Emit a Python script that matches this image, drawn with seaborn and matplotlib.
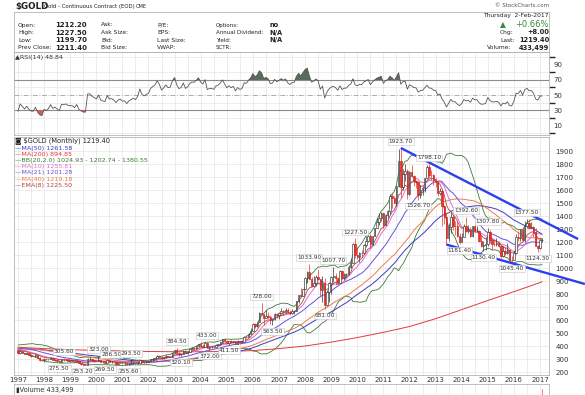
import numpy as np
import pandas as pd
import matplotlib
matplotlib.use("Agg")
import matplotlib.pyplot as plt
from matplotlib.patches import Rectangle
import seaborn as sns

# --- data ---
# monthly closes 1993-1996, only used to warm up the averages and the RSI
close_pre = [330, 327, 337, 355, 378, 378, 401, 372, 355, 370, 371, 391,
             378, 381, 390, 376, 387, 388, 385, 386, 395, 389, 383, 383,
             375, 376, 391, 389, 385, 387, 383, 382, 384, 383, 387, 387,
             405, 400, 396, 392, 391, 382, 385, 387, 379, 379, 371, 369]

first_month = "1997-01"
close = [345, 358, 349, 340, 345, 334, 326, 325, 332, 311, 296, 290,   # 1997
         303, 297, 301, 310, 293, 296, 288, 279, 294, 292, 294, 288,   # 1998
         287, 287, 280, 286, 268, 261, 255, 255, 299, 300, 292, 288,   # 1999
         283, 294, 278, 274, 272, 289, 277, 278, 274, 264, 270, 273,   # 2000
         266, 267, 258, 264, 267, 270, 266, 273, 293, 279, 275, 279,   # 2001
         282, 297, 303, 309, 326, 318, 304, 312, 324, 317, 319, 348,   # 2002
         368, 347, 335, 340, 365, 346, 355, 375, 385, 384, 398, 416,   # 2003
         402, 396, 427, 387, 394, 395, 391, 410, 416, 429, 453, 438,   # 2004
         423, 436, 428, 436, 418, 437, 429, 434, 473, 470, 496, 518,   # 2005
         570, 556, 583, 655, 645, 616, 633, 626, 600, 605, 648, 635,   # 2006
         652, 672, 664, 679, 660, 651, 669, 673, 743, 795, 783, 838,   # 2007
         923, 972, 916, 865, 888, 930, 913, 832, 884, 718, 816, 884,   # 2008
         928, 942, 924, 887, 979, 927, 953, 955, 1008, 1040, 1181, 1097,   # 2009
         1082, 1118, 1115, 1180, 1207, 1244, 1181, 1248, 1307, 1357, 1386, 1421,   # 2010
         1333, 1411, 1439, 1556, 1536, 1500, 1628, 1825, 1620, 1725, 1746, 1566,   # 2011
         1738, 1711, 1669, 1664, 1560, 1604, 1614, 1692, 1776, 1719, 1714, 1675,   # 2012
         1664, 1578, 1596, 1476, 1393, 1234, 1312, 1396, 1327, 1323, 1250, 1202,   # 2013
         1240, 1321, 1284, 1296, 1246, 1322, 1282, 1287, 1210, 1171, 1175, 1184,   # 2014
         1278, 1213, 1183, 1182, 1190, 1172, 1095, 1132, 1115, 1142, 1064, 1061,   # 2015
         1118, 1238, 1234, 1290, 1217, 1322, 1350, 1311, 1317, 1276, 1173, 1152,   # 2016
         1212.2, 1219.4]                                                          # 2017

high = [370, 366, 360, 350, 351, 346, 335, 331, 336, 334, 313, 298,
        307, 305, 303, 315, 312, 298, 297, 292, 301, 305.6, 300, 297,
        294, 292, 291, 291, 290, 270, 263, 260, 304, 318, 303, 295,
        292, 323, 296, 286, 280, 291, 290, 286.5, 280, 276, 272, 276,
        275, 270, 270, 266, 293.5, 275, 272, 277, 295, 294, 281, 282,
        285, 299, 305, 311, 328, 330, 323, 316, 328, 327, 323, 349,
        373, 384.5, 355, 341, 370, 368, 363, 377, 392, 392, 400, 417,
        430, 419, 429, 433, 396, 400, 411, 414, 418, 432, 456, 458,
        441, 440, 448, 439, 437, 443, 438, 448, 476, 482, 499, 541,
        575, 577, 587, 660, 728, 647, 679, 663, 640, 611, 652, 655,
        659, 690, 675, 694, 692, 675, 682, 680, 747, 796, 848, 842,
        933, 976, 1033.9, 933, 936, 946, 988, 918, 935, 920, 832, 889,
        936, 1007.7, 961, 933, 982, 987, 960, 961, 1024, 1070, 1195, 1227.5,
        1163, 1125, 1138, 1183, 1249, 1265, 1262, 1249, 1308, 1388, 1425, 1431,
        1423, 1412, 1448, 1569, 1577, 1555, 1633, 1912, 1923.7, 1760, 1804, 1764,
        1745, 1792, 1717, 1681, 1668, 1640, 1632, 1695, 1790, 1798.1, 1754, 1726,
        1695, 1679, 1617, 1605, 1487, 1424, 1347, 1434, 1434, 1362, 1361, 1267,
        1269, 1336, 1392.6, 1332, 1315, 1326, 1346, 1322, 1290, 1255, 1206, 1240,
        1307.8, 1294, 1224, 1224, 1232, 1205, 1175, 1171, 1159, 1192, 1146, 1089,
        1128, 1264, 1287, 1303, 1306, 1362, 1377.5, 1375, 1354, 1326, 1306, 1176,
        1220, 1227.5]

low = [341, 340, 345, 337, 338, 333, 318, 320, 318, 306, 288, 283,
       278, 293, 291, 300, 290, 287, 286, 275.5, 277, 288, 290, 285,
       283, 283, 278, 277, 266, 257, 253.2, 254, 254, 296, 287, 279,
       281, 281, 275, 272, 269.5, 271, 275, 271, 270, 263, 262, 267,
       263, 255.8, 256, 255.6, 263, 265, 264, 265, 271, 276, 271, 272,
       277, 281, 288, 301, 308, 315, 302, 301, 311, 314, 315, 318,
       346, 343, 325, 320.1, 339, 343, 342, 353, 369, 367, 379, 395,
       399, 391, 391, 384, 372, 381, 385, 389, 398, 411, 426, 431,
       420, 411.5, 426, 421, 415, 413, 418, 428, 432, 463, 468, 489,
       518, 541, 543, 581, 642, 565, 615, 617, 573, 563.5, 602, 615,
       605, 650, 636, 663, 651, 642, 648, 647, 667, 731, 775, 781,
       837, 887, 912, 860, 851, 864, 909, 786, 735, 681, 705, 742,
       801, 895, 866, 866, 886, 920, 905, 933, 950, 1002, 1041, 1075,
       1071, 1044, 1088, 1111, 1163, 1200, 1155, 1180, 1244, 1307, 1331, 1360,
       1310, 1329, 1381, 1419, 1462, 1497, 1478, 1622, 1535, 1602, 1667, 1531,
       1562, 1700, 1629, 1613, 1526.7, 1541, 1563, 1582, 1687, 1696, 1674, 1636,
       1626, 1555, 1562, 1321, 1338, 1180.5, 1208, 1271, 1291, 1251, 1241, 1181.4,
       1200, 1238, 1277, 1268, 1241, 1240, 1280, 1274, 1204, 1161, 1130.4, 1142,
       1167, 1190, 1142, 1170, 1169, 1162, 1077, 1084, 1098, 1107, 1052, 1045.4,
       1062, 1108, 1209, 1208, 1200, 1200, 1310, 1302, 1305, 1241, 1171, 1124.3,
       1147, 1199.7]

# 200-month average (start of each year)
ma200_t = [1997, 1998, 1999, 2000, 2001, 2002, 2003, 2004, 2005, 2006, 2007,
           2008, 2009, 2010, 2011, 2012, 2013, 2014, 2015, 2016, 2017, 2017.083]
ma200_v = [390, 380, 372, 366, 362, 358, 356, 356, 358, 365, 380,
           400, 430, 465, 505, 550, 610, 680, 750, 818, 888, 894.85]

# trend lines (blue)
trend_up_t = [2011.667, 2018.46]
trend_up_v = [1923.7, 1223]
trend_dn_t = [2013.417, 2018.72]
trend_dn_v = [1180.5, 877]

# price labels on the chart
ann_text = ["305.60", "275.50", "253.20", "323.00", "286.50", "269.50", "293.50",
            "255.60", "384.50", "320.10", "433.00", "372.00", "411.50", "728.00",
            "563.50", "1033.90", "681.00", "1007.70", "1227.50", "1923.70",
            "1526.70", "1798.10", "1181.40", "1392.60", "1130.40", "1307.80",
            "1045.40", "1377.50", "1124.30"]
ann_month = ["1998-10", "1998-08", "1999-07", "2000-02", "2000-08", "2000-05", "2001-05",
             "2001-04", "2003-02", "2003-04", "2004-04", "2004-05", "2005-02", "2006-05",
             "2006-10", "2008-03", "2008-10", "2009-02", "2009-12", "2011-09",
             "2012-05", "2012-10", "2013-12", "2014-03", "2014-11", "2015-01",
             "2015-12", "2016-07", "2016-12"]
ann_side = ["a", "b", "b", "a", "a", "b", "a", "b", "a", "b", "a", "b", "b", "a",
            "b", "a", "b", "a", "a", "a", "b", "a", "b", "a", "b", "a", "b", "a", "b"]

legend_text = ["MA(50) 1261.58", "MA(200) 894.85",
               "BB(20,2.0) 1024.93 - 1202.74 - 1380.55", "MA(10) 1255.81",
               "MA(21) 1201.28", "MA(40) 1219.18", "EMA(8) 1225.50"]
legend_color = ["#3c3cc0", "#e23a3a", "#3f7a36", "#dc6fdc", "#6a52dc", "#f07a4a", "#b8463a"]

years = list(range(1997, 2018))
volume_month = ["2017-02"]
volume_value = [433499]

# --- computed series ---
full = pd.Series(close_pre + close, dtype=float)
n0 = len(close_pre)
months = pd.date_range(first_month, periods=len(close), freq="MS")
t = (months.year + (months.month - 1) / 12).to_numpy()
c = np.array(close, dtype=float)
h = np.array(high, dtype=float)
l = np.array(low, dtype=float)
o = full.shift(1).to_numpy()[n0:]


def sma(n):
    return full.rolling(n, min_periods=min(n, 40)).mean().to_numpy()[n0:]


ma10, ma21, ma40, ma50 = sma(10), sma(21), sma(40), sma(50)
bb_mid = full.rolling(20).mean()
bb_sd = full.rolling(20).std(ddof=0)
bb_up = (bb_mid + 2 * bb_sd).to_numpy()[n0:]
bb_dn = (bb_mid - 2 * bb_sd).to_numpy()[n0:]
ema8 = full.ewm(span=8, adjust=False).mean().to_numpy()[n0:]

delta = full.diff()
gain = delta.clip(lower=0).ewm(alpha=1 / 14, adjust=False).mean()
loss = (-delta.clip(upper=0)).ewm(alpha=1 / 14, adjust=False).mean()
rsi = (100 - 100 / (1 + gain / loss)).to_numpy()[n0:]

# --- figure ---
sns.set_theme(style="white")
plt.rcParams["font.family"] = ["DejaVu Sans"]

W, H = 585, 395
fig = plt.figure(figsize=(W / 100, H / 100), dpi=100)
fig.patch.set_facecolor("white")


def fax(left, top, right, bottom):
    return fig.add_axes([left / W, 1 - bottom / H, (right - left) / W, (bottom - top) / H])


def ftext(x, y, s, **kw):
    kw.setdefault("va", "center")
    kw.setdefault("fontsize", 4.3)
    kw.setdefault("color", "#222222")
    fig.text(x / W, 1 - y / H, s, **kw)


XL = (1996.847, 2017.345)
GRID = "#e4e4e4"

ax_rsi = fax(14, 52, 549, 135)
ax = fax(14, 137, 549, 375)
ax_vol = fax(14, 384, 549, 430)

for a in (ax_rsi, ax, ax_vol):
    a.set_xlim(*XL)
    a.set_xticks(years)
    a.set_xticks(np.arange(1997.5, 2017.5, 1), minor=True)
    a.grid(True, which="both", axis="x", color=GRID, lw=0.5)
    a.set_axisbelow(True)
    for s in a.spines.values():
        s.set_color("#b4b4b4")
        s.set_linewidth(0.6)
    a.tick_params(length=0, labelsize=5, labelcolor="#333333")

# header
ftext(15, 6, "$GOLD", fontsize=6.3, fontweight="bold")
ftext(44, 6.5, "Gold - Continuous Contract (EOD)", fontsize=3.9)
ftext(136, 6.8, "CME", fontsize=3.7)
ftext(549, 5.5, "© StockCharts.com", fontsize=4.0, ha="right", color="#555555")
fig.add_artist(Rectangle((14 / W, 1 - 52 / H), 535 / W, 40 / H, transform=fig.transFigure,
                         fill=False, ec="#b4b4b4", lw=0.6))
rows_y = [25, 32.7, 40.3, 47.7]
for y, lab, val in zip(rows_y, ["Open:", "High:", "Low:", "Prev Close:"],
                       ["1212.20", "1227.50", "1199.70", "1211.40"]):
    ftext(18, y, lab)
    ftext(55, y, val, fontweight="bold", fontsize=5.0)
for y, lab in zip(rows_y, ["Ask:", "Ask Size:", "Bid:", "Bid Size:"]):
    ftext(101, y, lab)
for y, lab in zip(rows_y, ["P/E:", "EPS:", "Last Size:", "VWAP:"]):
    ftext(157, y, lab)
for y, lab, val in zip(rows_y, ["Options:", "Annual Dividend:", "Yield:", "SCTR:"],
                       ["no", "N/A", "N/A", ""]):
    ftext(216, y, lab, fontsize=4.0)
    ftext(269, y, val, fontweight="bold", fontsize=4.8)
ftext(549, 15.5, "Thursday  2-Feb-2017", ha="right")
ftext(503, 24.5, "▲", fontsize=5.5, color="#3a8a3a", ha="center")
ftext(549, 24.5, "+0.66%", ha="right", fontsize=6.0, color="#3a8a3a")
ftext(500, 32.5, "Chg:")
ftext(549, 32.5, "+8.00", ha="right", fontweight="bold", fontsize=4.8)
ftext(500, 40.3, "Last:")
ftext(549, 40.3, "1219.40", ha="right", fontweight="bold", fontsize=4.8)
ftext(487, 47.7, "Volume:")
ftext(549, 47.7, "433,499", ha="right", fontweight="bold", fontsize=4.8)

# RSI panel
ax_rsi.set_ylim(-3.3, 107.3)
ax_rsi.set_yticks([10, 30, 50, 70, 90])
ax_rsi.set_yticks(np.arange(0, 101, 10), minor=True)
ax_rsi.grid(True, which="minor", axis="y", color=GRID, lw=0.5)
ax_rsi.yaxis.tick_right()
ax_rsi.tick_params(axis="y", pad=3)
ax_rsi.set_xticklabels([])
ax_rsi.axhline(70, color="#8c8c8c", lw=0.8, zorder=1)
ax_rsi.axhline(30, color="#8c8c8c", lw=0.8, zorder=1)
ax_rsi.axhline(50, color="#a0a0a0", lw=0.6, ls=(0, (6, 2, 1, 2)), zorder=1)
ax_rsi.fill_between(t, rsi, 70, where=rsi > 70, interpolate=True, color="#5b6b5b", lw=0, zorder=2)
ax_rsi.fill_between(t, rsi, 30, where=rsi < 30, interpolate=True, color="#d0605a", lw=0, zorder=2)
sns.lineplot(x=t, y=rsi, ax=ax_rsi, color="#555555", lw=0.6, legend=False, zorder=3)
ax_rsi.set_xlabel("")
ax_rsi.set_ylabel("")
ftext(15, 57.5, "▲RSI(14) 48.84", fontsize=4.6, color="#333333")

# price panel
ax.set_ylim(177, 2008)
ax.set_yticks(np.arange(200, 2000, 100))
ax.grid(True, which="major", axis="y", color=GRID, lw=0.5)
ax.yaxis.tick_right()
ax.tick_params(axis="y", pad=4.5)
ax.tick_params(axis="x", pad=1.5)
ax.set_xticklabels([str(y) for y in years])

sns.lineplot(x=t, y=bb_up, ax=ax, color=legend_color[2], lw=0.6, legend=False)
sns.lineplot(x=t, y=bb_dn, ax=ax, color=legend_color[2], lw=0.6, legend=False)
sns.lineplot(x=ma200_t, y=ma200_v, ax=ax, color=legend_color[1], lw=0.7, legend=False)
sns.lineplot(x=t, y=ma50, ax=ax, color=legend_color[0], lw=0.7, legend=False)
sns.lineplot(x=t, y=ma40, ax=ax, color=legend_color[5], lw=0.7, legend=False)
sns.lineplot(x=t, y=ma21, ax=ax, color=legend_color[4], lw=0.7, legend=False)
sns.lineplot(x=t, y=ma10, ax=ax, color=legend_color[3], lw=0.7, legend=False)
sns.lineplot(x=t, y=ema8, ax=ax, color=legend_color[6], lw=0.6, legend=False)
ax.set_xlabel("")
ax.set_ylabel("")

up = c >= o
body_lo = np.minimum(o, c)
body_h = np.maximum(np.abs(c - o), 2.0)
ax.vlines(t[up], l[up], h[up], color="#333333", lw=0.5, zorder=4)
ax.vlines(t[~up], l[~up], h[~up], color="#e8342c", lw=0.5, zorder=4)
ax.bar(t[up], body_h[up], bottom=body_lo[up], width=0.055, color="white",
       edgecolor="#333333", lw=0.45, zorder=5)
ax.bar(t[~up], body_h[~up], bottom=body_lo[~up], width=0.055, color="#e8342c",
       edgecolor="#c42420", lw=0.45, zorder=5)

ax.plot(trend_up_t, trend_up_v, color="#2b3ff0", lw=1.7, clip_on=False, zorder=6,
        solid_capstyle="butt")
ax.plot(trend_dn_t, trend_dn_v, color="#2b3ff0", lw=1.7, clip_on=False, zorder=6,
        solid_capstyle="butt")

for txt, m, side in zip(ann_text, ann_month, ann_side):
    d = pd.Timestamp(m)
    x = d.year + (d.month - 1) / 12
    ax.annotate(txt, (x, float(txt)), xytext=(0, 4.6 if side == "a" else -4.6),
                textcoords="offset points", ha="center", va="center",
                fontsize=4.2, color="#333333", zorder=8,
                bbox=dict(boxstyle="square,pad=0.15", fc="white", ec="#c4c4c4", lw=0.4))

# legend block
ftext(15, 141, "◙ $GOLD (Monthly) 1219.40", fontsize=4.8, color="#222222")
for i, (txt, col) in enumerate(zip(legend_text, legend_color)):
    ftext(15, 148.3 + i * 6.15, "—" + txt, fontsize=4.6, color=col)

# volume panel
vt = [pd.Timestamp(m).year + (pd.Timestamp(m).month - 1) / 12 for m in volume_month]
ax_vol.bar(vt, volume_value, width=0.055, color="#e8342c", zorder=3)
ax_vol.set_ylim(0, max(volume_value) * 1.1)
ax_vol.set_yticks([])
ax_vol.set_xticklabels([])
ftext(16, 390, "▮Volume 433,499", fontsize=4.8, color="#333333")

fig.savefig("out.png", dpi=100, facecolor="white")
